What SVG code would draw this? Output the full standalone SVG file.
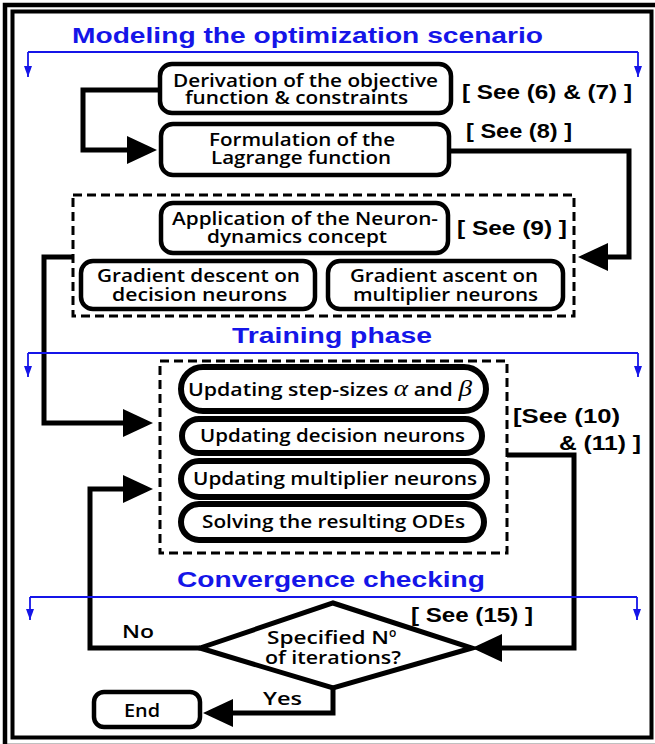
<svg xmlns="http://www.w3.org/2000/svg" width="655" height="744" viewBox="0 0 655 744">
<defs>
<style>
.box{fill:#fff;stroke:#000;stroke-width:4.5}
.oval{fill:#fff;stroke:#000;stroke-width:6}
.dash{fill:none;stroke:#000;stroke-width:3;stroke-dasharray:9 5}
.t{font-family:"Open Sans","Liberation Sans",sans-serif;font-weight:600;font-size:18px;fill:#000;text-anchor:middle}
.ts{text-anchor:start}
.ref{font-family:"Liberation Sans",Arial,sans-serif;font-weight:bold;font-size:21px;fill:#000}
.sec{font-family:"Liberation Sans",Arial,sans-serif;font-weight:bold;font-size:22px;fill:#1515e8;text-anchor:middle}
.bl{fill:none;stroke:#1515e8;stroke-width:1.8}
.con{fill:none;stroke:#000;stroke-width:5}
.math{font-family:"Liberation Serif","Times New Roman",serif;font-style:italic;font-weight:normal;font-size:23px}
</style>
<marker id="ah" markerUnits="userSpaceOnUse" markerWidth="30" markerHeight="28" refX="24" refY="14" orient="auto">
<path d="M0,0 L30,14 L0,28 z" fill="#000"/>
</marker>
<marker id="ab" markerUnits="userSpaceOnUse" markerWidth="11" markerHeight="8" refX="11" refY="4" orient="auto">
<path d="M0,0 L11,4 L0,8 z" fill="#1515e8"/>
</marker>
</defs>
<rect x="0" y="0" width="655" height="744" fill="#fff"/>
<g id="frame" fill="none" stroke="#000">
<rect x="5" y="5" width="656" height="741" stroke-width="4.5"/>
<rect x="12.5" y="11.5" width="639" height="726" stroke-width="4"/>
</g>
<g id="connectors">
<path class="con" d="M160,90 H83 V150 H151" marker-end="url(#ah)"/>
<path class="con" d="M449,151 H629 V257 H584" marker-end="url(#ah)"/>
<path class="con" d="M73,257 H44 V423 H147" marker-end="url(#ah)"/>
<path class="con" d="M507,455 H574 V648 H478" marker-end="url(#ah)"/>
<path class="con" d="M200,648 H90 V489 H147"  marker-end="url(#ah)"/>
<path class="con" d="M333,688 V713 H209" marker-end="url(#ah)"/>
</g>
<g id="sections">
<text class="sec" x="307.5" y="43" textLength="471" lengthAdjust="spacingAndGlyphs">Modeling the optimization scenario</text>
<path class="bl" d="M28,52 H638"/>
<path class="bl" d="M28,52 V77" marker-end="url(#ab)"/>
<path class="bl" d="M638,52 V77" marker-end="url(#ab)"/>
<text class="sec" x="332" y="343" textLength="200" lengthAdjust="spacingAndGlyphs">Training phase</text>
<path class="bl" d="M28,353 H638"/>
<path class="bl" d="M28,353 V377" marker-end="url(#ab)"/>
<path class="bl" d="M638,353 V377" marker-end="url(#ab)"/>
<text class="sec" x="331" y="587" textLength="308" lengthAdjust="spacingAndGlyphs">Convergence checking</text>
<path class="bl" d="M30,597 H637"/>
<path class="bl" d="M30,597 V620" marker-end="url(#ab)"/>
<path class="bl" d="M637,597 V620" marker-end="url(#ab)"/>
</g>
<g id="derivation">
<rect class="box" x="160" y="64" width="291" height="49" rx="12"/>
<text class="t" x="305.5" y="87" textLength="265" lengthAdjust="spacingAndGlyphs">Derivation of the objective</text>
<text class="t" x="296.5" y="104" textLength="223" lengthAdjust="spacingAndGlyphs">function &amp; constraints</text>
</g>
<text id="ref67" class="ref" x="462" y="99" textLength="170" lengthAdjust="spacingAndGlyphs">[ See (6) &amp; (7) ]</text>
<g id="lagrange">
<rect class="box" x="161" y="124" width="288" height="51" rx="12"/>
<text class="t" x="302" y="146" textLength="186" lengthAdjust="spacingAndGlyphs">Formulation of the</text>
<text class="t" x="301" y="164" textLength="180" lengthAdjust="spacingAndGlyphs">Lagrange function</text>
</g>
<text id="ref8" class="ref" x="466" y="138" textLength="106" lengthAdjust="spacingAndGlyphs">[ See (8) ]</text>
<g id="neurodynamics">
<rect class="dash" x="73" y="195" width="501" height="121"/>
<g id="application">
<rect class="box" x="161" y="203" width="287" height="50" rx="12"/>
<text class="t" x="305" y="225" textLength="266" lengthAdjust="spacingAndGlyphs">Application of the Neuron-</text>
<text class="t" x="297" y="243" textLength="180" lengthAdjust="spacingAndGlyphs">dynamics concept</text>
</g>
<text id="ref9" class="ref" x="457" y="235" textLength="110" lengthAdjust="spacingAndGlyphs">[ See (9) ]</text>
<g id="descent">
<rect class="box" x="81" y="261" width="234" height="48" rx="12"/>
<text class="t" x="198.5" y="282" textLength="203" lengthAdjust="spacingAndGlyphs">Gradient descent on</text>
<text class="t" x="199.5" y="301" textLength="175" lengthAdjust="spacingAndGlyphs">decision neurons</text>
</g>
<g id="ascent">
<rect class="box" x="328" y="261" width="235" height="48" rx="12"/>
<text class="t" x="444" y="282" textLength="188" lengthAdjust="spacingAndGlyphs">Gradient ascent on</text>
<text class="t" x="445.5" y="301" textLength="185" lengthAdjust="spacingAndGlyphs">multiplier neurons</text>
</g>
</g>
<g id="training">
<rect class="dash" x="160" y="361" width="347" height="192"/>
<g id="stepsizes">
<rect class="oval" x="181" y="367" width="305" height="44" rx="22"/>
<text class="t" x="330" y="396" textLength="284" lengthAdjust="spacingAndGlyphs">Updating step-sizes <tspan class="math">α</tspan> and <tspan class="math">β</tspan></text>
</g>
<g id="decision">
<rect class="oval" x="182" y="419" width="300" height="34" rx="17"/>
<text class="t" x="332.5" y="442" textLength="265" lengthAdjust="spacingAndGlyphs">Updating decision neurons</text>
</g>
<g id="multiplier">
<rect class="oval" x="181" y="461" width="306" height="36" rx="18"/>
<text class="t" x="335" y="485" textLength="284" lengthAdjust="spacingAndGlyphs">Updating multiplier neurons</text>
</g>
<g id="odes">
<rect class="oval" x="181" y="504" width="303" height="36" rx="18"/>
<text class="t" x="333.5" y="528" textLength="263" lengthAdjust="spacingAndGlyphs">Solving the resulting ODEs</text>
</g>
</g>
<text id="ref1011" class="ref"><tspan x="513" y="423" textLength="107" lengthAdjust="spacingAndGlyphs">[See (10)</tspan><tspan x="559" y="450" textLength="82" lengthAdjust="spacingAndGlyphs">&amp; (11) ]</tspan></text>
<g id="decision-check">
<polygon points="200,648 333,603 472,648 333,688" fill="#fff" stroke="#000" stroke-width="5" stroke-linejoin="miter"/>
<text class="t ts" x="267" y="644"><tspan textLength="122" lengthAdjust="spacingAndGlyphs">Specified N</tspan><tspan dy="-7" font-size="12">o</tspan></text>
<text class="t ts" x="265" y="664" textLength="136" lengthAdjust="spacingAndGlyphs">of iterations?</text>
</g>
<text id="ref15" class="ref" x="411" y="622" textLength="122" lengthAdjust="spacingAndGlyphs">[ See (15) ]</text>
<text id="no" class="t ts" x="122" y="638" textLength="32" lengthAdjust="spacingAndGlyphs">No</text>
<text id="yes" class="t ts" x="263" y="705" textLength="39" lengthAdjust="spacingAndGlyphs">Yes</text>
<g id="end">
<rect class="box" x="94" y="692" width="106" height="35" rx="10"/>
<text class="t" x="142" y="717" textLength="36" lengthAdjust="spacingAndGlyphs">End</text>
</g>
</svg>
